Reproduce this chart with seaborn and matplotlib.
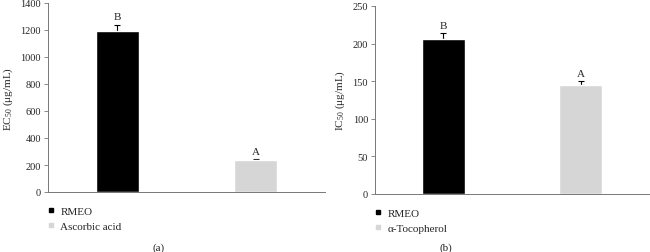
import seaborn as sns
import matplotlib.pyplot as plt
from matplotlib.lines import Line2D

# panel (a): EC50
ec_labels = ["RMEO", "Ascorbic acid"]
ec_values = [1190, 235]
ec_errors = [50, 8]
ec_letters = ["B", "A"]

# panel (b): IC50
ic_labels = ["RMEO", "α-Tocopherol"]
ic_values = [206, 145]
ic_errors = [7.5, 5]
ic_letters = ["B", "A"]

bar_colors = ["#000000", "#d6d6d6"]

sns.set_style("white")
plt.rcParams["font.family"] = ["Liberation Serif", "DejaVu Serif"]
plt.rcParams["mathtext.fontset"] = "custom"
plt.rcParams["mathtext.rm"] = "Liberation Serif"

fig = plt.figure(figsize=(6.5, 2.53), dpi=100)
ax_a = fig.add_axes([48 / 650, 1 - 193 / 253, 277 / 650, 189 / 253])
ax_b = fig.add_axes([375 / 650, 1 - 195 / 253, 274 / 650, 188 / 253])


def draw_panel(ax, labels, values, errors, letters, ymax, ystep, ylabel):
    sns.barplot(x=labels, y=values, hue=labels, palette=bar_colors,
                width=0.31, legend=False, ax=ax, saturation=1, zorder=2)
    for patch, val, err, letter in zip(ax.patches, values, errors, letters):
        xc = patch.get_x() + patch.get_width() / 2
        ax.errorbar(xc, val, yerr=[[0], [err]], fmt="none", ecolor="black",
                    elinewidth=0.8, capsize=2, capthick=0.8, zorder=1)
        ax.text(xc, val + err + ymax * 0.018, letter, ha="center", va="bottom",
                fontsize=8)
    ax.set_ylim(0, ymax)
    ax.set_xlim(-0.5, 1.5)
    ax.set_yticks(range(0, ymax + 1, ystep))
    ax.set_xticks([])
    ax.set_xlabel("")
    ax.set_ylabel(ylabel, fontsize=8, labelpad=4)
    ax.tick_params(axis="y", labelsize=7.5, length=3, width=0.6, color="#777777",
                   left=True, pad=2)
    for side in ["top", "right"]:
        ax.spines[side].set_visible(False)
    for side in ["left", "bottom"]:
        ax.spines[side].set_color("#777777")
        ax.spines[side].set_linewidth(0.7)
        ax.spines[side].set_zorder(3)
    handles = [Line2D([], [], marker="s", linestyle="none", markersize=3.5,
                      color=c) for c in bar_colors]
    ax.legend(handles, labels, loc="upper left", bbox_to_anchor=(0.0, -0.075),
              frameon=False, fontsize=8, handlelength=0.6, handletextpad=0.5,
              borderaxespad=0, borderpad=0, labelspacing=0.45)


draw_panel(ax_a, ec_labels, ec_values, ec_errors, ec_letters, 1400, 200,
           r"EC$_{\mathrm{50}}$ (μg/mL)")
draw_panel(ax_b, ic_labels, ic_values, ic_errors, ic_letters, 250, 50,
           r"IC$_{\mathrm{50}}$ (μg/mL)")

fig.text(159 / 650, 1 - 248 / 253, "(a)", ha="center", va="center", fontsize=8)
fig.text(446 / 650, 1 - 248 / 253, "(b)", ha="center", va="center", fontsize=8)

fig.savefig("out.png", dpi=100)
